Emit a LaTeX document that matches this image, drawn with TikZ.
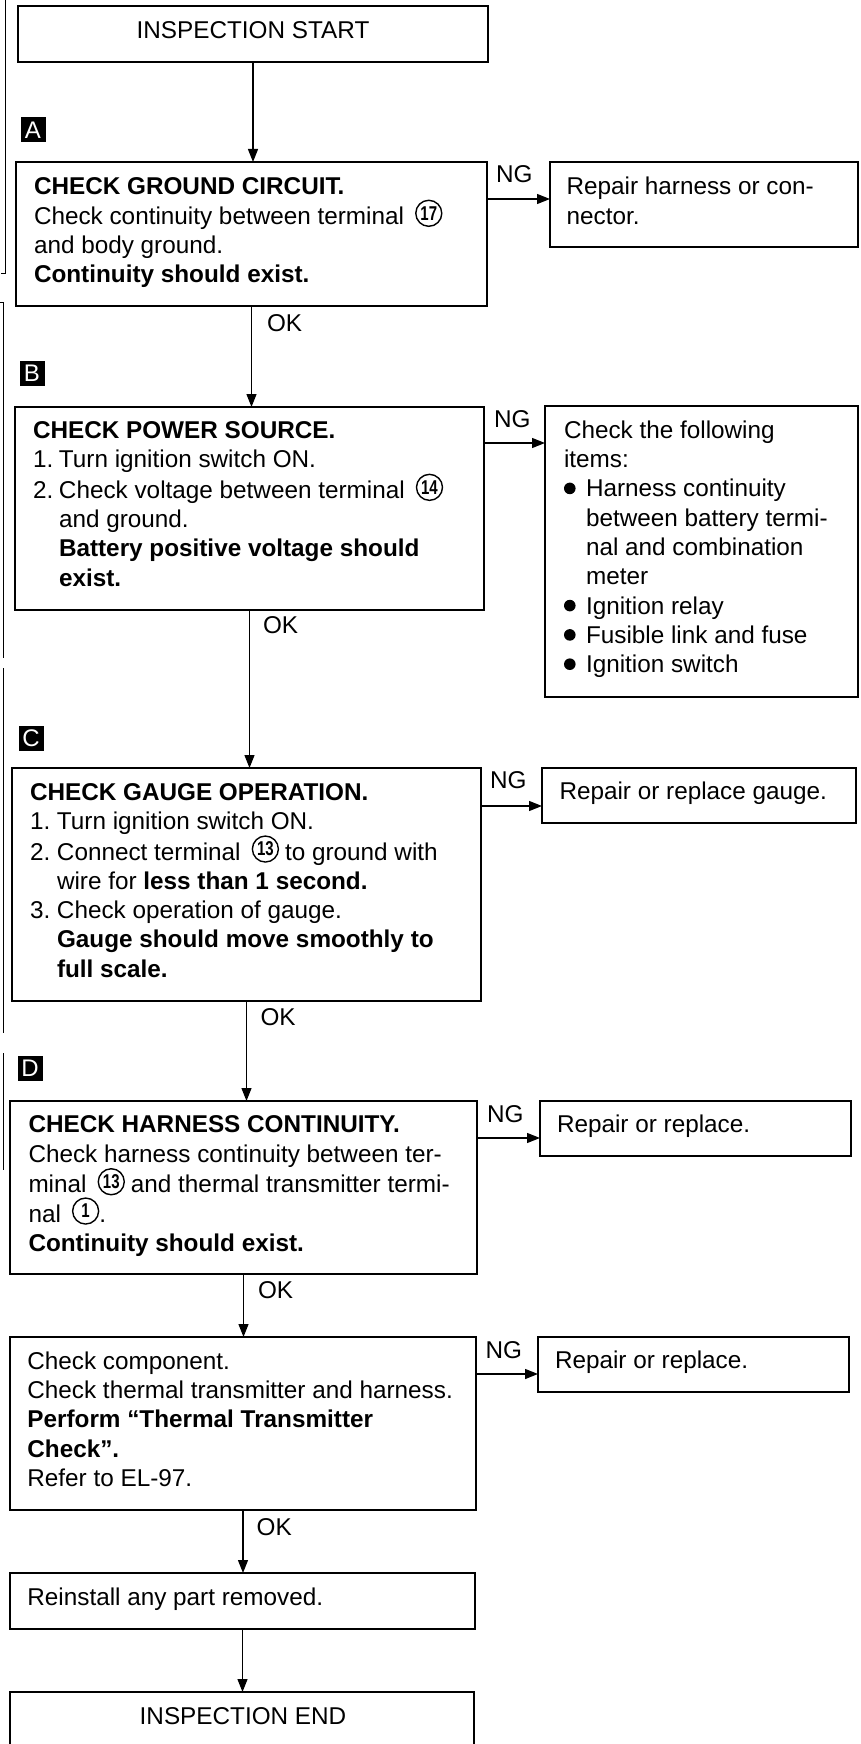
\documentclass[tikz,border=0pt]{standalone}
\usepackage{fontspec}
\usepackage{graphicx}
\setmainfont{Liberation Sans}
\usetikzlibrary{arrows.meta}
\newcommand{\cnum}[1]{\hspace*{11pt}\tikz[baseline={([yshift=2pt]cn.south)}]\node[circle,draw,line width=1.4pt,inner sep=0pt,outer sep=0pt,minimum size=26pt,font=\fontsize{20}{20}\selectfont\bfseries](cn){\scalebox{0.75}[1]{#1}};\hspace*{2pt}}
\newcommand{\bul}{\tikz[baseline=-8.5pt]\fill (0pt,0pt) circle[radius=5.8pt];}
\begin{document}
\begin{tikzpicture}[x=1pt,y=-1pt,
  box/.style={draw, line width=2pt, rectangle, inner sep=0pt, outer sep=0pt, anchor=north west},
  txt/.style={inner sep=0pt, outer sep=0pt, anchor=base west, font=\fontsize{24.3}{29.3}\selectfont},
  conn/.style={line width=1.3pt, -{Triangle[length=13pt,width=10pt]}},
  tag/.style={fill=black, text=white, inner sep=0pt, outer sep=0pt, minimum width=25pt, minimum height=25pt, font=\fontsize{24}{24}\selectfont},
  bar/.style={line width=1pt}
]
\useasboundingbox (0,0) rectangle (860,1744);
\clip (0,0) rectangle (860,1744);

% left margin bars
\draw[bar] (5,0) -- (5,273) -- (1,273);
\draw[bar] (0,302) -- (3,302) -- (3,658);
\draw[bar] (3,668) -- (3,1033);
\draw[bar] (3,1053) -- (3,1170);

% boxes
\node[box, minimum width=470pt, minimum height=56pt] (start) at (18,6) {};
\node[box, minimum width=471pt, minimum height=144pt] (a) at (16,162) {};
\node[box, minimum width=308pt, minimum height=85pt] (nga) at (550,162) {};
\node[box, minimum width=469pt, minimum height=203pt] (b) at (15,407) {};
\node[box, minimum width=313pt, minimum height=291pt] (ngb) at (545,406) {};
\node[box, minimum width=469pt, minimum height=233pt] (c) at (12,768) {};
\node[box, minimum width=314pt, minimum height=55pt] (ngc) at (542,768) {};
\node[box, minimum width=467pt, minimum height=173pt] (d) at (10,1101) {};
\node[box, minimum width=311pt, minimum height=55pt] (ngd) at (540,1101) {};
\node[box, minimum width=466pt, minimum height=173pt] (e) at (10,1337) {};
\node[box, minimum width=311pt, minimum height=55pt] (nge) at (538,1337) {};
\node[box, minimum width=465pt, minimum height=56pt] (f) at (10,1573) {};
\node[box, minimum width=464pt, minimum height=80pt] (fin) at (10,1692) {};

% section tags
\node[tag] (la) at (33,130) {A};
\node[tag] (lb) at (32,373) {B};
\node[tag] (lc) at (31,738) {C};
\node[tag] (ld) at (30,1068) {D};

% texts
\node[txt, anchor=base] (tstart) at (253,38.3) {INSPECTION START};
\node[txt] (ta) at (34,195) {\begin{minipage}[t]{450pt}
\textbf{CHECK GROUND CIRCUIT.}\\
Check continuity between terminal\cnum{17}\\
and body ground.\\
\textbf{Continuity should exist.}
\end{minipage}};
\node[txt] (tnga) at (566.6,195) {\begin{minipage}[t]{290pt}
Repair harness or con-\\
nector.
\end{minipage}};
\node[txt] (tb) at (33,438.3) {\begin{minipage}[t]{450pt}
\textbf{CHECK POWER SOURCE.}\\
\makebox[26pt][l]{1.}Turn ignition switch ON.\\
\makebox[26pt][l]{2.}Check voltage between terminal\cnum{14}\\
\hspace*{26pt}and ground.\\
\hspace*{26pt}\textbf{Battery positive voltage should}\\
\hspace*{26pt}\textbf{exist.}
\end{minipage}};
\node[txt] (tngb) at (564,438.3) {\begin{minipage}[t]{290pt}
Check the following\\
items:\\
\makebox[22pt][l]{\bul}Harness continuity\\
\hspace*{22pt}between battery termi-\\
\hspace*{22pt}nal and combination\\
\hspace*{22pt}meter\\
\makebox[22pt][l]{\bul}Ignition relay\\
\makebox[22pt][l]{\bul}Fusible link and fuse\\
\makebox[22pt][l]{\bul}Ignition switch
\end{minipage}};
\node[txt] (tc) at (30,800) {\begin{minipage}[t]{450pt}
\textbf{CHECK GAUGE OPERATION.}\\
\makebox[27pt][l]{1.}Turn ignition switch ON.\\
\makebox[27pt][l]{2.}Connect terminal\cnum{13}\hspace*{4pt}to ground with\\
\hspace*{27pt}wire for \textbf{less than 1 second.}\\
\makebox[27pt][l]{3.}Check operation of gauge.\\
\hspace*{27pt}\textbf{Gauge should move smoothly to}\\
\hspace*{27pt}\textbf{full scale.}
\end{minipage}};
\node[txt] (tngc) at (559.5,799.3) {Repair or replace gauge.};
\node[txt] (td) at (28.5,1132.7) {\begin{minipage}[t]{450pt}
\textbf{CHECK HARNESS CONTINUITY.}\\
Check harness continuity between ter-\\
minal\cnum{13}\hspace*{4pt}and thermal transmitter termi-\\
nal\cnum{1}\hspace*{-2pt}.\\
\textbf{Continuity should exist.}
\end{minipage}};
\node[txt] (tngd) at (557,1132) {Repair or replace.};
\node[txt] (te) at (27.4,1369.3) {\begin{minipage}[t]{450pt}
Check component.\\
Check thermal transmitter and harness.\\
\textbf{Perform “Thermal Transmitter}\\
\textbf{Check”.}\\
Refer to EL-97.
\end{minipage}};
\node[txt] (tnge) at (555,1368.3) {Repair or replace.};
\node[txt] (tf) at (27.4,1605) {Reinstall any part removed.};
\node[txt, anchor=base] (tfin) at (243,1724) {INSPECTION END};

% NG / OK labels
\node[txt] (ngla) at (496,183) {NG};
\node[txt] (nglb) at (494,427) {NG};
\node[txt] (nglc) at (490,788) {NG};
\node[txt] (ngld) at (487,1122) {NG};
\node[txt] (ngle) at (485.5,1358) {NG};
\node[txt] (oka) at (267,331) {OK};
\node[txt] (okb) at (263,633) {OK};
\node[txt] (okc) at (260.5,1025) {OK};
\node[txt] (okd) at (258,1298) {OK};
\node[txt] (oke) at (256.7,1535) {OK};

% vertical connectors
\draw[conn] (start.south) -- (start.south |- a.north);
\draw[conn] (a.south) -- (a.south |- b.north);
\draw[conn] (b.south) -- (b.south |- c.north);
\draw[conn] (c.south) -- (c.south |- d.north);
\draw[conn] (d.south) -- (d.south |- e.north);
\draw[conn] (e.south) -- (e.south |- f.north);
\draw[conn] (f.south) -- (f.south |- fin.north);

% NG connectors
\coordinate (pa) at ([yshift=-37pt]a.north east);
\coordinate (pb) at ([yshift=-36pt]b.north east);
\coordinate (pc) at ([yshift=-38pt]c.north east);
\coordinate (pd) at ([yshift=-37pt]d.north east);
\coordinate (pe) at ([yshift=-37pt]e.north east);
\draw[conn] (pa) -- (pa -| nga.west);
\draw[conn] (pb) -- (pb -| ngb.west);
\draw[conn] (pc) -- (pc -| ngc.west);
\draw[conn] (pd) -- (pd -| ngd.west);
\draw[conn] (pe) -- (pe -| nge.west);
\end{tikzpicture}
\end{document}
